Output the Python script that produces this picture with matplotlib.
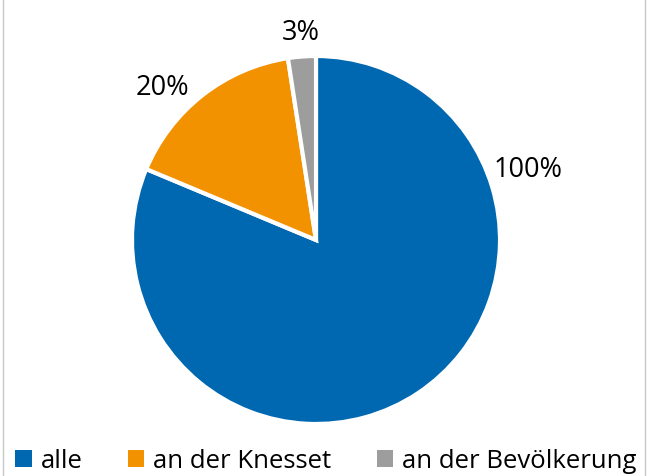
import matplotlib.pyplot as plt
from matplotlib.patches import Patch
from matplotlib.lines import Line2D

labels = ["alle", "an der Knesset", "an der Bevölkerung"]
values = [100, 20, 3]
pct_labels = ["100%", "20%", "3%"]
colors = ["#0067B1", "#F39200", "#9D9D9D"]

# label positions (pie radius = 1)
label_pos = [(1.152, 0.38), (-0.837, 0.826), (-0.082, 1.125)]

plt.rcParams["font.family"] = ["Open Sans", "DejaVu Sans"]

W, H = 647, 476
fig = plt.figure(figsize=(W / 100, H / 100), dpi=100)

cx, cy, r = 316, 240, 184
ax = fig.add_axes([(cx - r) / W, (H - cy - r) / H, 2 * r / W, 2 * r / H])

wedges, texts = ax.pie(
    values,
    labels=pct_labels,
    colors=colors,
    startangle=90,
    counterclock=False,
    radius=1,
    wedgeprops=dict(edgecolor="white", linewidth=3),
    textprops=dict(fontsize=19.5, color="black"),
)
for t, pos in zip(texts, label_pos):
    t.set_position(pos)
    t.set_ha("center")
    t.set_va("center")

ax.set_xlim(-1, 1)
ax.set_ylim(-1, 1)
ax.set_aspect("equal")
ax.axis("off")

handles = [Patch(facecolor=c, edgecolor="none") for c in colors]
fig.legend(
    handles,
    labels,
    loc="center",
    bbox_to_anchor=(326 / W, (H - 461) / H),
    ncol=3,
    frameon=False,
    fontsize=18.5,
    handlelength=0.65,
    handleheight=0.65,
    handletextpad=0.35,
    columnspacing=1.75,
)

# thin grey border at left and right edges
fig.add_artist(Line2D([2.5 / W, 2.5 / W], [0, 1], color="#c8c8c8", lw=1))
fig.add_artist(Line2D([644.5 / W, 644.5 / W], [0, 1], color="#c8c8c8", lw=1))

fig.savefig("out.png", dpi=100)
